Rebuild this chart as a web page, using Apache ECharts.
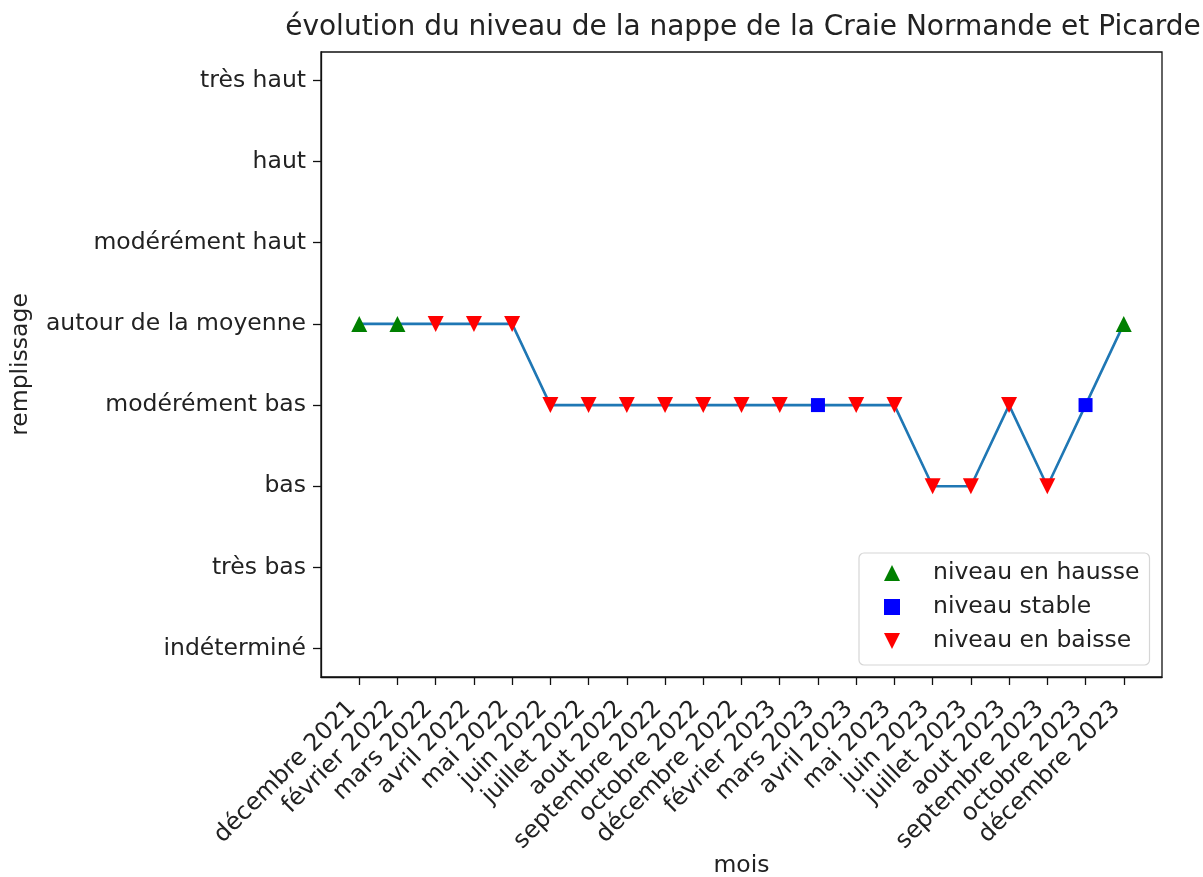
<!DOCTYPE html>
<html>
<head>
<meta charset="utf-8">
<script src="https://cdn.jsdelivr.net/npm/echarts@6/dist/echarts.min.js"></script>
<style>
  html, body { margin: 0; padding: 0; background: #fff; }
  #chart { width: 1203px; height: 877px; }
</style>
</head>
<body>
<div id="chart"></div>
<script>
// categories (x) and levels (y)
var mois = ['décembre 2021', 'février 2022', 'mars 2022', 'avril 2022', 'mai 2022', 'juin 2022',
  'juillet 2022', 'aout 2022', 'septembre 2022', 'octobre 2022', 'décembre 2022', 'février 2023',
  'mars 2023', 'avril 2023', 'mai 2023', 'juin 2023', 'juillet 2023', 'aout 2023',
  'septembre 2023', 'octobre 2023', 'décembre 2023'];
var niveaux = ['indéterminé', 'très bas', 'bas', 'modérément bas', 'autour de la moyenne',
  'modérément haut', 'haut', 'très haut'];
var remplissage = ['autour de la moyenne', 'autour de la moyenne', 'autour de la moyenne',
  'autour de la moyenne', 'autour de la moyenne', 'modérément bas', 'modérément bas',
  'modérément bas', 'modérément bas', 'modérément bas', 'modérément bas', 'modérément bas',
  'modérément bas', 'modérément bas', 'modérément bas', 'bas', 'bas', 'modérément bas', 'bas',
  'modérément bas', 'autour de la moyenne'];
var tendance = ['hausse', 'hausse', 'baisse', 'baisse', 'baisse', 'baisse', 'baisse', 'baisse',
  'baisse', 'baisse', 'baisse', 'baisse', 'stable', 'baisse', 'baisse', 'baisse', 'baisse',
  'baisse', 'baisse', 'stable', 'hausse'];

var font = 'DejaVu Sans';
var txt = '#222';
var fs = 23.5;

var points = mois.map(function (m, i) { return [i, niveaux.indexOf(remplissage[i])]; });
function filtre(t) {
  return points.filter(function (p, i) { return tendance[i] === t; });
}
var idx = mois.map(function (m, i) { return i; });
var idy = niveaux.map(function (n, i) { return i; });

var triHaut = 'path://M5,0L10,10L0,10Z';
var triBas = 'path://M0,0L10,0L5,10Z';

var chart = echarts.init(document.getElementById('chart'));
chart.setOption({
  animation: false,
  backgroundColor: '#fff',
  title: {
    text: 'évolution du niveau de la nappe de la Craie Normande et Picarde',
    left: 738, top: 9, textAlign: 'center',
    textStyle: { fontFamily: font, fontSize: 28, fontWeight: 'normal', color: txt }
  },
  grid: {
    left: 321, top: 52, width: 841, height: 625,
    outerBoundsMode: 'none', containLabel: false,
    show: true, borderColor: '#111', borderWidth: 1.3
  },
  legend: {
    orient: 'vertical', left: 859, top: 553,
    padding: [8, 10, 12, 25],
    itemWidth: 16, itemHeight: 16, itemGap: 10,
    backgroundColor: 'rgba(255,255,255,0.85)',
    borderColor: '#d6d6d6', borderWidth: 1.2, borderRadius: 5,
    textStyle: { fontFamily: font, fontSize: fs, color: txt, lineHeight: 24, padding: [0, 0, 0, 28] },
    data: [
      { name: 'niveau en hausse', icon: triHaut },
      { name: 'niveau stable', icon: 'rect' },
      { name: 'niveau en baisse', icon: triBas }
    ]
  },
  xAxis: {
    type: 'value', min: -1, max: 21,
    name: 'mois', nameLocation: 'middle', nameGap: 177, nameMoveOverlap: false,
    nameTextStyle: { fontFamily: font, fontSize: fs, color: txt },
    axisLine: { show: true, onZero: false, lineStyle: { color: '#111', width: 1.3 } },
    axisTick: { show: true, length: 8, customValues: idx, lineStyle: { color: '#111', width: 1.3 } },
    axisLabel: {
      customValues: idx, rotate: 45, margin: 21, padding: [0, 10, 0, 0],
      fontFamily: font, fontSize: 24, color: txt,
      formatter: function (v) { return mois[v]; }
    },
    splitLine: { show: false }
  },
  yAxis: {
    type: 'value', min: -0.35, max: 7.35,
    name: 'remplissage', nameLocation: 'middle', nameGap: 288, nameMoveOverlap: false,
    nameTextStyle: { fontFamily: font, fontSize: fs, color: txt },
    axisLine: { show: true, onZero: false, lineStyle: { color: '#111', width: 1.3 } },
    axisTick: { show: true, length: 8, customValues: idy, lineStyle: { color: '#111', width: 1.3 } },
    axisLabel: {
      customValues: idy, margin: 15,
      fontFamily: font, fontSize: fs, color: txt,
      formatter: function (v) { return niveaux[v]; }
    },
    splitLine: { show: false }
  },
  series: [
    {
      type: 'line', data: points, showSymbol: false, symbol: 'none',
      lineStyle: { color: '#1f77b4', width: 2.6 }, z: 1
    },
    {
      name: 'niveau en hausse', type: 'scatter', data: filtre('hausse'),
      symbol: triHaut, symbolSize: 16, itemStyle: { color: '#008000', opacity: 1 }, z: 3
    },
    {
      name: 'niveau stable', type: 'scatter', data: filtre('stable'),
      symbol: 'rect', symbolSize: 14, itemStyle: { color: '#0000ff', opacity: 1 }, z: 3
    },
    {
      name: 'niveau en baisse', type: 'scatter', data: filtre('baisse'),
      symbol: triBas, symbolSize: 16, itemStyle: { color: '#ff0000', opacity: 1 }, z: 3
    }
  ]
});
</script>
</body>
</html>
